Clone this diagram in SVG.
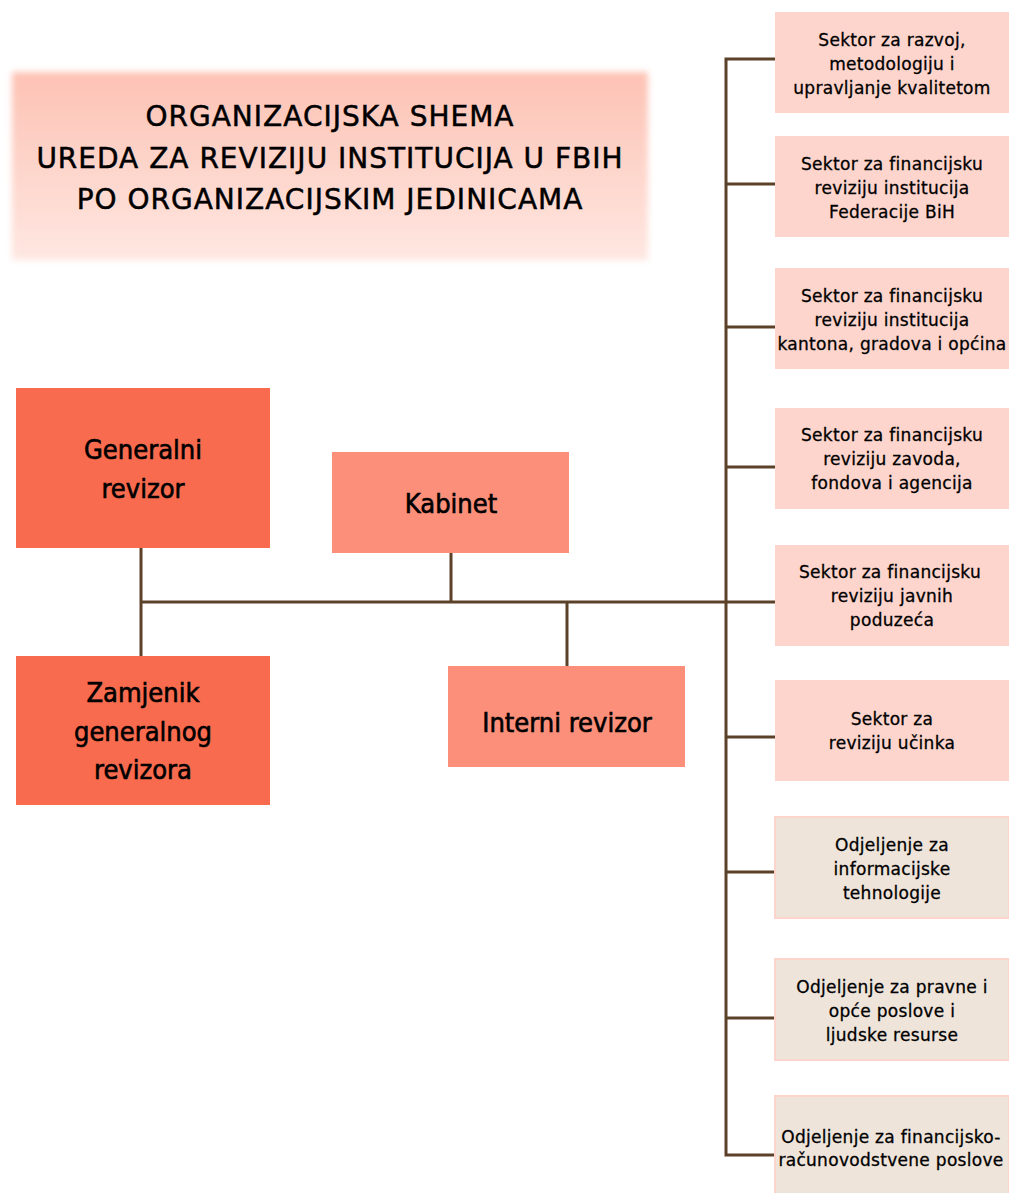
<svg xmlns="http://www.w3.org/2000/svg" width="1009" height="1193" viewBox="0 0 1009 1193">
<style>
text{font-family:"DejaVu Sans","Liberation Sans",sans-serif;fill:#000;text-anchor:middle;stroke:#000}
.t{font-size:28px;letter-spacing:1px;stroke-width:0.5px}
.big{font-family:"DejaVu Sans Condensed","Liberation Sans",sans-serif;font-size:27px;stroke-width:0.6px}
.sm{font-size:17px;letter-spacing:0.3px;stroke-width:0.3px}
.dark{fill:#f96b4e}
.mid{fill:#fb8f79}
.pink{fill:#fdd5cc}
.beige{fill:#efe4da;stroke:#fdd5cc;stroke-width:2}
.ln{stroke:#5c4129;stroke-width:3;fill:none}
</style>
<defs>
<linearGradient id="tg" x1="0" y1="0" x2="0" y2="1">
<stop offset="0" stop-color="#fdc2b4"/>
<stop offset="1" stop-color="#fee7e1"/>
</linearGradient>
<filter id="blur" x="-5%" y="-10%" width="110%" height="120%"><feGaussianBlur stdDeviation="3"/></filter>
</defs>
<rect width="1009" height="1193" fill="#fff"/>
<g id="title">
<rect x="12" y="72" width="636" height="188" fill="url(#tg)" filter="url(#blur)"/>
<text class="t" x="330" y="126">ORGANIZACIJSKA SHEMA</text>
<text class="t" x="330" y="168">UREDA ZA REVIZIJU INSTITUCIJA U FBIH</text>
<text class="t" x="330" y="209">PO ORGANIZACIJSKIM JEDINICAMA</text>
</g>
<g id="connectors">
<path class="ln" d="M141 548V656M141 602H775M451 553V602M567 602V666"/>
<path class="ln" d="M775 59H726V1155H775M726 184H775M726 327H775M726 467H775M726 737H775M726 872H775M726 1018H775"/>
</g>
<g id="generalni">
<rect class="dark" x="16" y="388" width="254" height="160"/>
<text class="big" x="143" y="459">Generalni</text>
<text class="big" x="143" y="498">revizor</text>
</g>
<g id="zamjenik">
<rect class="dark" x="16" y="656" width="254" height="149"/>
<text class="big" x="143" y="702">Zamjenik</text>
<text class="big" x="143" y="741">generalnog</text>
<text class="big" x="143" y="779">revizora</text>
</g>
<g id="kabinet">
<rect class="mid" x="332" y="452" width="237" height="101"/>
<text class="big" x="451" y="513">Kabinet</text>
</g>
<g id="interni">
<rect class="mid" x="448" y="666" width="237" height="101"/>
<text class="big" x="567" y="732">Interni revizor</text>
</g>
<g id="s1">
<rect class="pink" x="775" y="12" width="234" height="101"/>
<text class="sm" x="892" y="46">Sektor za razvoj,</text>
<text class="sm" x="892" y="70">metodologiju i</text>
<text class="sm" x="892" y="94">upravljanje kvalitetom</text>
</g>
<g id="s2">
<rect class="pink" x="775" y="136" width="234" height="101"/>
<text class="sm" x="892" y="170">Sektor za financijsku</text>
<text class="sm" x="892" y="194">reviziju institucija</text>
<text class="sm" x="892" y="218">Federacije BiH</text>
</g>
<g id="s3">
<rect class="pink" x="775" y="268" width="234" height="101"/>
<text class="sm" x="892" y="302">Sektor za financijsku</text>
<text class="sm" x="892" y="326">reviziju institucija</text>
<text class="sm" x="892" y="350">kantona, gradova i općina</text>
</g>
<g id="s4">
<rect class="pink" x="775" y="408" width="234" height="101"/>
<text class="sm" x="892" y="441">Sektor za financijsku</text>
<text class="sm" x="892" y="465">reviziju zavoda,</text>
<text class="sm" x="892" y="489">fondova i agencija</text>
</g>
<g id="s5">
<rect class="pink" x="775" y="545" width="234" height="101"/>
<text class="sm" x="890" y="578">Sektor za financijsku</text>
<text class="sm" x="892" y="602">reviziju javnih</text>
<text class="sm" x="892" y="626">poduzeća</text>
</g>
<g id="s6">
<rect class="pink" x="775" y="680" width="234" height="101"/>
<text class="sm" x="892" y="725">Sektor za</text>
<text class="sm" x="892" y="749">reviziju učinka</text>
</g>
<g id="o1">
<rect class="beige" x="775" y="817" width="234" height="101"/>
<text class="sm" x="892" y="851">Odjeljenje za</text>
<text class="sm" x="892" y="875">informacijske</text>
<text class="sm" x="892" y="899">tehnologije</text>
</g>
<g id="o2">
<rect class="beige" x="775" y="959" width="234" height="101"/>
<text class="sm" x="892" y="993">Odjeljenje za pravne i</text>
<text class="sm" x="892" y="1017">opće poslove i</text>
<text class="sm" x="892" y="1041">ljudske resurse</text>
</g>
<g id="o3">
<rect class="beige" x="775" y="1096" width="234" height="100"/>
<text class="sm" x="891" y="1143">Odjeljenje za financijsko-</text>
<text class="sm" x="891" y="1166">računovodstvene poslove</text>
</g>
</svg>
